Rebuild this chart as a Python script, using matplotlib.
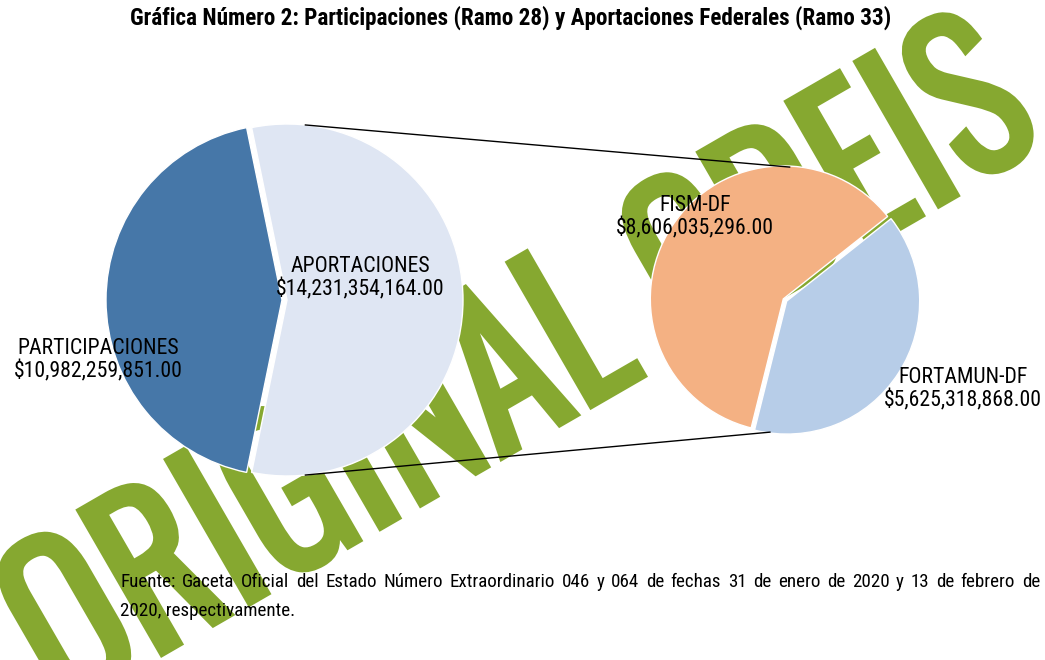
import matplotlib
matplotlib.use("Agg")
import numpy as np
import matplotlib.pyplot as plt
from matplotlib import font_manager
from matplotlib.font_manager import FontProperties
from matplotlib.textpath import TextPath
from matplotlib.patches import PathPatch
from matplotlib.transforms import Affine2D

W, H = 1045, 660

# --- data ---
main_labels = ["PARTICIPACIONES", "APORTACIONES"]
main_values = [10982259851.00, 14231354164.00]
sub_labels = ["FORTAMUN-DF", "FISM-DF"]
sub_values = [5625318868.00, 8606035296.00]

main_colors = ["#4677a8", "#dfe6f3"]
sub_colors = ["#b7cde8", "#f4b183"]
mark_green = "#86a830"

title = "Gráfica Número 2: Participaciones (Ramo 28) y Aportaciones Federales (Ramo 33)"
source_1 = ("Fuente: Gaceta Oficial del Estado Número Extraordinario 046 y 064 de fechas "
            "31 de enero de 2020 y 13 de febrero de")
source_2 = "2020, respectivamente."
watermark = "ORIGINAL CDEIS"


def pick(*names):
    for n in names:
        try:
            font_manager.findfont(FontProperties(family=n), fallback_to_default=False)
            return n
        except ValueError:
            pass
    return "DejaVu Sans"


NARROW = pick("Roboto Condensed", "Archivo Narrow", "Liberation Sans")
MARK = pick("Oswald", "Anton", "Liberation Sans")
plt.rcParams["font.family"] = [NARROW, "DejaVu Sans"]


def money(v):
    return f"${v:,.2f}"


fig = plt.figure(figsize=(W / 100, H / 100), dpi=100)
ax = fig.add_axes([0, 0, 1, 1])
ax.set_xlim(0, W)
ax.set_ylim(0, H)
rend = fig.canvas.get_renderer()


def fit_width(t, target):
    # scale a text's font size until its pixel width matches the reference
    for _ in range(3):
        w = t.get_window_extent(rend).width
        t.set_fontsize(t.get_fontsize() * target / w)


# watermark, drawn behind the pies (thin outline stroke thickens the letters a bit)
wm_path = TextPath((0, 0), watermark, size=240, prop=FontProperties(family=MARK, weight="bold"))
bb = wm_path.get_extents()
wm_tr = (Affine2D()
         .translate(-bb.x0 - bb.width / 2, -bb.y0 - bb.height / 2)
         .scale(1125 / bb.width, 170 / bb.height)
         .rotate_deg(30)
         .translate(515, H - 355))
ax.add_patch(PathPatch(wm_tr.transform_path(wm_path), facecolor=mark_green,
                       edgecolor=mark_green, linewidth=3.5, joinstyle="miter", zorder=1))

# main pie
big_c = (282, H - 300)
big_r = 176
frac = main_values[0] / sum(main_values)
ax.pie(main_values, colors=main_colors, startangle=180 - 180 * frac,
       center=big_c, radius=big_r, explode=[0, 5],
       wedgeprops=dict(edgecolor="white", linewidth=1, zorder=3))

# secondary pie
small_c = (785, H - 300)
small_r = 133
ax.pie(sub_values, colors=sub_colors, startangle=-104,
       center=small_c, radius=small_r, explode=[2, 2],
       wedgeprops=dict(edgecolor="white", linewidth=1, zorder=3))

# connector lines between the pies
split_c = (big_c[0] + 5, big_c[1])
for a_big, a_small in [(84, 88), (-84, -96.5)]:
    x0 = split_c[0] + big_r * np.cos(np.radians(a_big))
    y0 = split_c[1] + big_r * np.sin(np.radians(a_big))
    x1 = small_c[0] + small_r * np.cos(np.radians(a_small))
    y1 = small_c[1] + small_r * np.sin(np.radians(a_small))
    ax.plot([x0, x1], [y0, y1], color="black", lw=1, zorder=4)

ax.set_xlim(0, W)
ax.set_ylim(0, H)
ax.set_aspect("equal")
ax.axis("off")

# slice labels
probe = ax.text(0, 0, money(sub_values[0]), fontsize=17)
fit_width(probe, 158)
label_size = probe.get_fontsize()
probe.remove()

label_pos = [(98, 360), (360, 278), (963, 389), (695, 217)]
for (x, y), name, v in zip(label_pos, main_labels + sub_labels, main_values + sub_values):
    ax.text(x, H - y, f"{name}\n{money(v)}", ha="center", va="center",
            fontsize=label_size, linespacing=1.1, zorder=5)

tt = ax.text(511, H - 18, title, ha="center", va="center", fontsize=15,
             fontweight="bold", zorder=5)
fit_width(tt, 763)

# justified source note
probe = ax.text(0, 0, source_1, fontsize=13)
fit_width(probe, 875)
note_size = probe.get_fontsize()
probe.remove()

ax.text(120, H - 611, source_2, ha="left", va="center", fontsize=note_size, zorder=5)
words = source_1.split()
texts = [ax.text(0, H - 582, w, ha="left", va="center", fontsize=note_size, zorder=5)
         for w in words]
widths = [t.get_window_extent(rend).width for t in texts]
gap = (1040 - 120 - sum(widths)) / (len(words) - 1)
x = 120
for t, w in zip(texts, widths):
    t.set_x(x)
    x += w + gap

fig.savefig("out.png", dpi=100, facecolor="white")
